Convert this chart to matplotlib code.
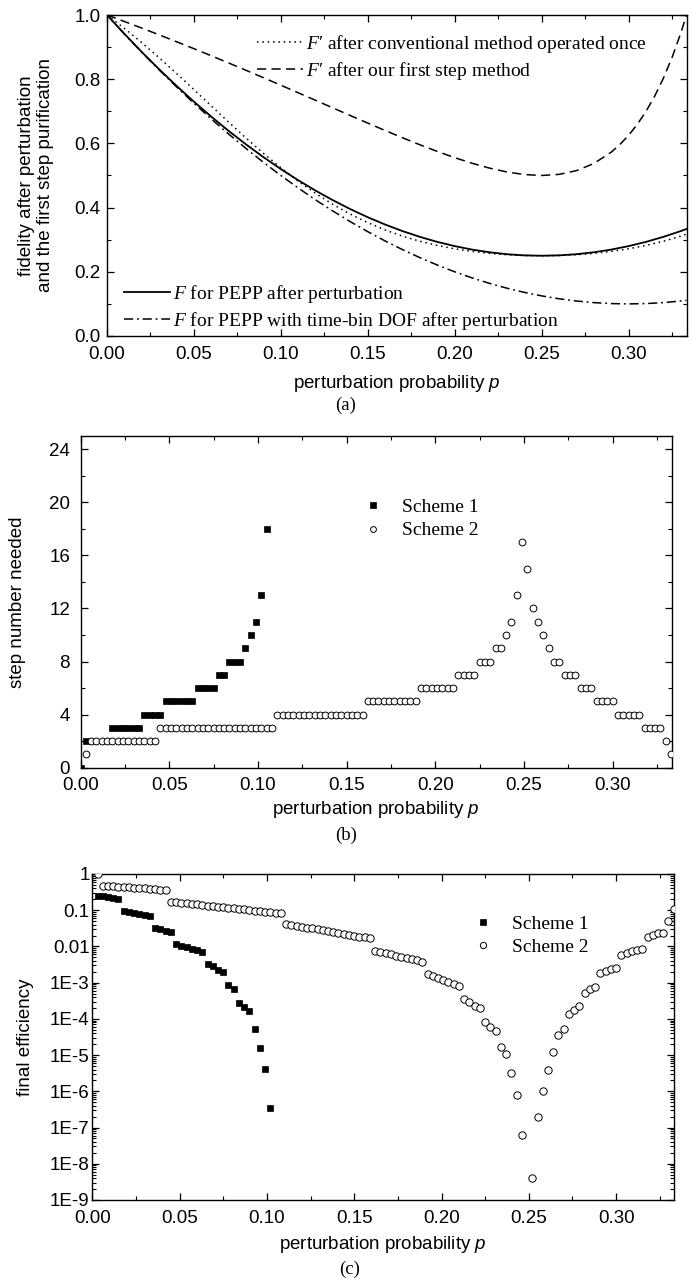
import matplotlib
matplotlib.use('Agg')
import matplotlib.pyplot as plt
from matplotlib.ticker import MultipleLocator, LogLocator, FixedLocator, NullFormatter, FormatStrFormatter
import numpy as np

plt.rcParams['font.family'] = ['Liberation Sans', 'DejaVu Sans']
plt.rcParams['mathtext.fontset'] = 'custom'
plt.rcParams['mathtext.rm'] = 'Liberation Serif'
plt.rcParams['mathtext.it'] = 'Liberation Serif:italic'
plt.rcParams['mathtext.sf'] = 'Liberation Sans:italic'

# ---- panel (a): fidelity curves ----
p_a = [0.0, 0.01, 0.02, 0.03, 0.04, 0.05, 0.06, 0.07, 0.08, 0.09, 0.10,
       0.11, 0.12, 0.13, 0.14, 0.15, 0.16, 0.17, 0.18, 0.19, 0.20,
       0.21, 0.22, 0.23, 0.24, 0.25, 0.26, 0.27, 0.28, 0.29, 0.30,
       0.31, 0.32, 0.33, 0.3333]
F_pepp = [1.0, 0.9412, 0.8848, 0.8308, 0.7792, 0.73, 0.6832, 0.6388, 0.5968, 0.5572, 0.52,
          0.4852, 0.4528, 0.4228, 0.3952, 0.37, 0.3472, 0.3268, 0.3088, 0.2932, 0.28,
          0.2692, 0.2608, 0.2548, 0.2512, 0.25, 0.2512, 0.2548, 0.2608, 0.2692, 0.28,
          0.2932, 0.3088, 0.3268, 0.3333]
F_timebin = [1.0, 0.941, 0.884, 0.829, 0.776, 0.725, 0.676, 0.629, 0.584, 0.541, 0.50,
             0.461, 0.424, 0.389, 0.356, 0.325, 0.296, 0.269, 0.244, 0.221, 0.20,
             0.181, 0.164, 0.149, 0.136, 0.125, 0.116, 0.109, 0.104, 0.101, 0.10,
             0.101, 0.104, 0.109, 0.111]
F_conv = [1.0, 0.9584, 0.9139, 0.8669, 0.8179, 0.7676, 0.7167, 0.6661, 0.6166, 0.5691, 0.5241,
          0.4823, 0.4441, 0.4098, 0.3794, 0.3530, 0.3303, 0.3110, 0.2951, 0.2820, 0.2716,
          0.2635, 0.2574, 0.2532, 0.2508, 0.25, 0.2508, 0.2532, 0.2574, 0.2635, 0.2716,
          0.2820, 0.2951, 0.3110, 0.3171]
p_first = [0.0, 0.01, 0.02, 0.03, 0.04, 0.05, 0.06, 0.07, 0.08, 0.09, 0.10,
           0.11, 0.12, 0.13, 0.14, 0.15, 0.16, 0.17, 0.18, 0.19, 0.20,
           0.21, 0.22, 0.23, 0.24, 0.25, 0.26, 0.27, 0.28, 0.29, 0.295, 0.30,
           0.305, 0.31, 0.315, 0.32, 0.325, 0.33, 0.3333]
F_first = [1.0, 0.9798, 0.9592, 0.9382, 0.9168, 0.8951, 0.8729, 0.8505, 0.8277, 0.8046, 0.7813,
           0.7577, 0.7341, 0.7104, 0.6867, 0.6633, 0.6401, 0.6175, 0.5957, 0.5749, 0.5556,
           0.5381, 0.5230, 0.5110, 0.5030, 0.50, 0.5035, 0.5151, 0.5372, 0.5726, 0.5964, 0.625,
           0.6591, 0.6994, 0.7469, 0.8025, 0.8674, 0.9429, 1.0]

# ---- panels (b), (c): p grid used by both schemes ----
p_grid = [0.003, 0.006, 0.009, 0.012, 0.015, 0.018, 0.021, 0.024, 0.027, 0.030,
          0.033, 0.036, 0.039, 0.042, 0.045, 0.048, 0.051, 0.054, 0.057, 0.060,
          0.063, 0.066, 0.069, 0.072, 0.075, 0.078, 0.081, 0.084, 0.087, 0.090,
          0.093, 0.096, 0.099, 0.102, 0.105, 0.108, 0.111, 0.114, 0.117, 0.120,
          0.123, 0.126, 0.129, 0.132, 0.135, 0.138, 0.141, 0.144, 0.147, 0.150,
          0.153, 0.156, 0.159, 0.162, 0.165, 0.168, 0.171, 0.174, 0.177, 0.180,
          0.183, 0.186, 0.189, 0.192, 0.195, 0.198, 0.201, 0.204, 0.207, 0.210,
          0.213, 0.216, 0.219, 0.222, 0.225, 0.228, 0.231, 0.234, 0.237, 0.240,
          0.243, 0.246, 0.249, 0.252, 0.255, 0.258, 0.261, 0.264, 0.267, 0.270,
          0.273, 0.276, 0.279, 0.282, 0.285, 0.288, 0.291, 0.294, 0.297, 0.300,
          0.303, 0.306, 0.309, 0.312, 0.315, 0.318, 0.321, 0.324, 0.327, 0.330,
          0.333]

steps_s2 = [1, 2, 2, 2, 2, 2, 2, 2, 2, 2,
            2, 2, 2, 2, 3, 3, 3, 3, 3, 3,
            3, 3, 3, 3, 3, 3, 3, 3, 3, 3,
            3, 3, 3, 3, 3, 3, 4, 4, 4, 4,
            4, 4, 4, 4, 4, 4, 4, 4, 4, 4,
            4, 4, 4, 5, 5, 5, 5, 5, 5, 5,
            5, 5, 5, 6, 6, 6, 6, 6, 6, 6,
            7, 7, 7, 7, 8, 8, 8, 9, 9, 10,
            11, 13, 17, 15, 12, 11, 10, 9, 8, 8,
            7, 7, 7, 6, 6, 6, 5, 5, 5, 5,
            4, 4, 4, 4, 4, 3, 3, 3, 3, 2,
            1]

p_s1_b = [0.0, 0.003, 0.018, 0.021, 0.024, 0.027, 0.030, 0.033, 0.036, 0.039,
          0.042, 0.045, 0.048, 0.051, 0.054, 0.057, 0.060, 0.063, 0.066, 0.069,
          0.072, 0.075, 0.078, 0.081, 0.084, 0.087, 0.090, 0.093, 0.096, 0.099,
          0.102, 0.105]
steps_s1 = [0, 2, 3, 3, 3, 3, 3, 3, 4, 4,
            4, 4, 5, 5, 5, 5, 5, 5, 6, 6,
            6, 6, 7, 7, 8, 8, 8, 9, 10, 11,
            13, 18]

p_s1_c = [0.003, 0.006, 0.009, 0.012, 0.015, 0.018, 0.021, 0.024, 0.027, 0.030,
          0.033, 0.036, 0.039, 0.042, 0.045, 0.048, 0.051, 0.054, 0.057, 0.060,
          0.063, 0.066, 0.069, 0.072, 0.075, 0.078, 0.081, 0.084, 0.087, 0.090,
          0.093, 0.096, 0.099, 0.102]
eff_s1 = [0.25, 0.24, 0.23, 0.22, 0.21, 0.095, 0.089, 0.083, 0.078, 0.072,
          0.068, 0.033, 0.030, 0.027, 0.0245, 0.0115, 0.0105, 0.0095, 0.0087, 0.0078,
          0.0071, 0.0032, 0.0028, 0.0023, 0.0020, 8.7e-4, 6.7e-4, 2.8e-4, 2.1e-4, 1.6e-4,
          5.4e-5, 1.6e-5, 4.1e-6, 3.5e-7]

eff_s2 = [1.0, 0.48, 0.47, 0.46, 0.45, 0.44, 0.43, 0.42, 0.41, 0.40,
          0.39, 0.38, 0.37, 0.36, 0.17, 0.165, 0.16, 0.155, 0.15, 0.145,
          0.14, 0.135, 0.13, 0.126, 0.122, 0.118, 0.114, 0.11, 0.106, 0.102,
          0.098, 0.095, 0.092, 0.089, 0.086, 0.083, 0.0417, 0.0394, 0.0372, 0.0352,
          0.0332, 0.0314, 0.0296, 0.0280, 0.0264, 0.0250, 0.0236, 0.0223, 0.0211, 0.0199,
          0.0188, 0.0178, 0.0168, 0.0076, 0.0070, 0.0065, 0.0060, 0.0056, 0.0052, 0.0048,
          0.0044, 0.0041, 0.0038, 1.74e-3, 1.54e-3, 1.36e-3, 1.20e-3, 1.06e-3, 9.4e-4, 8.3e-4,
          3.5e-4, 2.9e-4, 2.3e-4, 1.95e-4, 8.0e-5, 6.0e-5, 4.7e-5, 1.64e-5, 1.07e-5, 3.2e-6,
          7.8e-7, 6.2e-8, np.nan, 4.0e-9, 2.0e-7, 1.0e-6, 3.8e-6, 1.24e-5, 3.6e-5, 5.1e-5,
          1.36e-4, 1.76e-4, 2.2e-4, 5.2e-4, 6.6e-4, 7.4e-4, 1.8e-3, 2.1e-3, 2.4e-3, 2.6e-3,
          5.8e-3, 6.7e-3, 7.4e-3, 7.9e-3, 8.5e-3, 0.0186, 0.021, 0.023, 0.024, 0.051,
          0.106]

W, H = 692, 1283
fig = plt.figure(figsize=(W / 100, H / 100), dpi=100)

TICK = 13.5
LEG = 14


def frac(l, t, r, b):
    return [l / W, 1 - b / H, (r - l) / W, (b - t) / H]


def style_axes(ax, xpad, ypad):
    ax.tick_params(which='both', direction='in', top=True, right=True, labelsize=TICK)
    ax.tick_params(axis='x', which='both', pad=xpad)
    ax.tick_params(axis='y', which='both', pad=ypad)
    ax.tick_params(which='major', length=5, width=0.9)
    ax.tick_params(which='minor', length=3, width=0.8)
    for s in ax.spines.values():
        s.set_linewidth(1.0)


xlab = r'perturbation probability $\mathsf{p}$'
leg_font = {'family': 'Liberation Serif', 'size': LEG}

# ---------- (a) ----------
ax1 = fig.add_axes(frac(107, 15, 686.5, 336))
l_solid, = ax1.plot(p_a, F_pepp, 'k-', lw=1.3)
l_dd, = ax1.plot(p_a, F_timebin, color='k', lw=1.1, dashes=(6, 2.5, 1.2, 2.5))
l_dot, = ax1.plot(p_a, F_conv, color='k', lw=1.1, dashes=(1, 2.5))
l_dash, = ax1.plot(p_first, F_first, color='k', lw=1.1, dashes=(6, 3.5))
ax1.set_xlim(0, 1 / 3)
ax1.set_ylim(0, 1)
ax1.xaxis.set_major_locator(MultipleLocator(0.05))
ax1.xaxis.set_minor_locator(MultipleLocator(0.025))
ax1.yaxis.set_major_locator(MultipleLocator(0.2))
ax1.yaxis.set_minor_locator(MultipleLocator(0.1))
ax1.xaxis.set_major_formatter(FormatStrFormatter('%.2f'))
ax1.yaxis.set_major_formatter(FormatStrFormatter('%.1f'))
style_axes(ax1, 7, 4.5)
ax1.set_xlabel(xlab, fontsize=TICK)
ax1.xaxis.set_label_coords(0.5, -0.115)
ax1.set_ylabel('fidelity after perturbation\nand the first step purification', fontsize=TICK,
               linespacing=1.2)
ax1.yaxis.set_label_coords(-0.091, 0.5)
leg1 = ax1.legend([l_dot, l_dash],
                  ["$F$\u2032 after conventional method operated once", "$F$\u2032 after our first step method"],
                  loc='center left', bbox_to_anchor=(0.258, 0.868), frameon=False, prop=leg_font,
                  handlelength=2.4, handletextpad=0.15, borderpad=0, borderaxespad=0, labelspacing=0.25)
ax1.add_artist(leg1)
ax1.legend([l_solid, l_dd],
           [r"$F$ for PEPP after perturbation", r"$F$ for PEPP with time-bin DOF after perturbation"],
           loc='center left', bbox_to_anchor=(0.029, 0.089), frameon=False, prop=leg_font,
           handlelength=2.4, handletextpad=0.15, borderpad=0, borderaxespad=0, labelspacing=0.25)

# ---------- (b) ----------
ax2 = fig.add_axes(frac(80.5, 436, 671.7, 767.7))
h1 = ax2.plot(p_s1_b, steps_s1, 's', color='k', ms=4.9, mew=0.5, zorder=3)[0]
h2 = ax2.plot(p_grid, steps_s2, 'o', mfc='white', mec='k', ms=4.9, mew=0.7, zorder=4)[0]
ax2.set_xlim(0, 1 / 3)
ax2.set_ylim(0, 25)
ax2.xaxis.set_major_locator(MultipleLocator(0.05))
ax2.xaxis.set_minor_locator(MultipleLocator(0.025))
ax2.yaxis.set_major_locator(MultipleLocator(4))
ax2.yaxis.set_minor_locator(MultipleLocator(2))
ax2.xaxis.set_major_formatter(FormatStrFormatter('%.2f'))
style_axes(ax2, 6.8, 7.5)
ax2.set_xlabel(xlab, fontsize=TICK)
ax2.xaxis.set_label_coords(0.5, -0.093)
ax2.set_ylabel('step number needed', fontsize=TICK)
ax2.yaxis.set_label_coords(-0.092, 0.5)
ax2.legend([h1, h2], ['Scheme 1', 'Scheme 2'], loc='center left', bbox_to_anchor=(0.478, 0.75),
           frameon=False, prop=leg_font, handlelength=1.0, handletextpad=1.0, borderpad=0,
           borderaxespad=0, labelspacing=0.3, markerscale=0.85)

# ---------- (c) ----------
ax3 = fig.add_axes(frac(92.3, 874, 674.3, 1200))
g1 = ax3.plot(p_s1_c, eff_s1, 's', color='k', ms=5.0, mew=0.5, zorder=3)[0]
g2 = ax3.plot(p_grid, eff_s2, 'o', mfc='white', mec='k', ms=5.3, mew=0.7, zorder=4)[0]
ax3.set_yscale('log')
ax3.set_xlim(0, 1 / 3)
ax3.set_ylim(1e-9, 1)
ax3.xaxis.set_major_locator(MultipleLocator(0.05))
ax3.xaxis.set_minor_locator(MultipleLocator(0.025))
ax3.xaxis.set_major_formatter(FormatStrFormatter('%.2f'))
ylog_ticks = [1e-9, 1e-8, 1e-7, 1e-6, 1e-5, 1e-4, 1e-3, 1e-2, 1e-1, 1]
ylog_labels = ['1E-9', '1E-8', '1E-7', '1E-6', '1E-5', '1E-4', '1E-3', '0.01', '0.1', '1']
ax3.yaxis.set_major_locator(FixedLocator(ylog_ticks))
ax3.set_yticklabels(ylog_labels)
ax3.yaxis.set_minor_locator(LogLocator(base=10, subs=np.arange(2, 10), numticks=100))
ax3.yaxis.set_minor_formatter(NullFormatter())
style_axes(ax3, 7, 2)
ax3.set_xlabel(xlab, fontsize=TICK)
ax3.xaxis.set_label_coords(0.5, -0.105)
ax3.set_ylabel('final efficiency', fontsize=TICK)
ax3.yaxis.set_label_coords(-0.1, 0.5)
ax3.legend([g1, g2], ['Scheme 1', 'Scheme 2'], loc='center left', bbox_to_anchor=(0.655, 0.811),
           frameon=False, prop=leg_font, handlelength=1.0, handletextpad=1.0, borderpad=0,
           borderaxespad=0, labelspacing=0.3, markerscale=0.85)

# captions
cap_font = dict(family='Liberation Serif', size=TICK, ha='center', va='center')
fig.text(346 / W, 1 - 405 / H, '(a)', **cap_font)
fig.text(346 / W, 1 - 835 / H, '(b)', **cap_font)
fig.text(350 / W, 1 - 1269 / H, '(c)', **cap_font)

fig.savefig('out.png', dpi=100)
